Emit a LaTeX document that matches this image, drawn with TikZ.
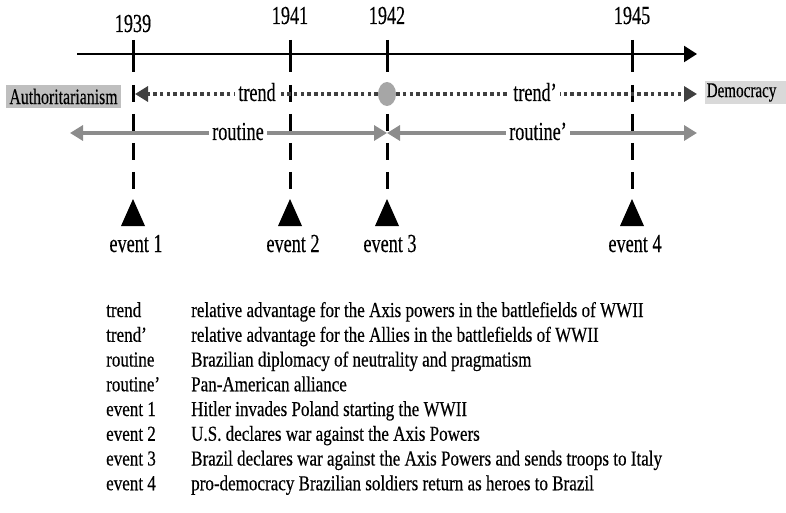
\documentclass[tikz,border=0pt]{standalone}
\usepackage{fontspec}
\setmainfont{Liberation Serif}
\newfontfamily\lblfont[FakeStretch=0.70,FakeBold=0.3]{Liberation Serif}
\newfontfamily\legfont[FakeStretch=0.80,FakeBold=0.3]{Liberation Serif}
\newfontfamily\boxfont[FakeStretch=0.72,FakeBold=0.3]{Liberation Serif}
\usetikzlibrary{arrows.meta,shapes.geometric}
\definecolor{authgray}{HTML}{BFBFBF}
\definecolor{demgray}{HTML}{D9D9D9}
\definecolor{trendgray}{HTML}{404040}
\definecolor{routgray}{HTML}{8C8C8C}
\definecolor{dotgray}{HTML}{A6A6A6}
\tikzset{
  lbl/.style={font=\lblfont\fontsize{26}{26}\selectfont, inner sep=0pt, anchor=base},
  leg/.style={font=\legfont\fontsize{21.3}{21.3}\selectfont, inner sep=0pt, anchor=base west},
  rowlbl/.style={lbl, fill=white, inner xsep=3pt, inner ysep=2pt},
  endbox/.style={font=\boxfont\fontsize{22}{22}\selectfont, inner sep=0pt},
  tickline/.style={line width=3pt},
  dashline/.style={line width=3pt, dash pattern=on 17pt off 12pt},
  trendline/.style={draw=trendgray, line width=3.5pt, dash pattern=on 3.5pt off 3.2pt,
     -{Triangle[length=13pt,width=15pt,fill=trendgray]}},
  routline/.style={draw=routgray, line width=4pt,
     {Triangle[length=13pt,width=15pt,fill=routgray]}-{Triangle[length=13pt,width=15pt,fill=routgray]}},
  evtri/.style={fill=black}
}
\begin{document}
\begin{tikzpicture}[x=1pt,y=-1pt]
\useasboundingbox (0,0) rectangle (786,513);
% axis
\coordinate (axL) at (77,54);
\coordinate (axR) at (697,54);
\draw[line width=2.2pt, -{Triangle[length=13pt,width=16pt]}] (axL) -- (axR);
% years
\node[lbl] (y39) at (133,32) {1939};
\node[lbl] (y41) at (290,24) {1941};
\node[lbl] (y42) at (387,24) {1942};
\node[lbl] (y45) at (632,24) {1945};
% vertical lines and event triangles
\foreach \x/\n in {133/1,290/2,387/3,632/4}{
  \coordinate (ta\n) at (\x,40);
  \coordinate (tb\n) at (\x,72);
  \coordinate (da\n) at (\x,85);
  \coordinate (db\n) at (\x,192);
  \draw[tickline] (ta\n) -- (tb\n);
  \draw[dashline] (da\n) -- (db\n);
  \fill[evtri] (\x-12,226) -- (\x,199) -- (\x+12,226) -- cycle;
  \node[lbl] (ev\n) at (\x+3,252) {event \n};
}
% end boxes
\node[endbox, fill=authgray, minimum width=115pt, minimum height=23pt] (auth) at (63.5,96.5) {Authoritarianism};
\node[endbox, fill=demgray, minimum height=23pt, text width=78pt, align=left, inner xsep=1.5pt, anchor=west,
  font=\boxfont\fontsize{21}{21}\selectfont] (dem) at (705,92.5) {Democracy};
% trend row
\node[ellipse, fill=dotgray, minimum width=18pt, minimum height=24pt, inner sep=0pt] (c42) at (387,94) {};
\coordinate (tipL) at (135,94);
\coordinate (tipR) at (697,94);
\draw[trendline] (c42.west) -- (tipL);
\draw[trendline] (c42.east) -- (tipR);
\node[rowlbl] (trend) at (257,101) {trend};
\node[rowlbl] (trendp) at (535,101) {trend’};
% routine row
\coordinate (rL) at (70,133);
\coordinate (rM) at (387,133);
\coordinate (rR) at (697,133);
\draw[routline] (rL) -- (rM);
\draw[routline] (rM) -- (rR);
\node[rowlbl] (rout) at (238,140) {routine};
\node[rowlbl] (routp) at (538,140) {routine’};
% legend
\foreach \k/\a/\b in {0/trend/relative advantage for the Axis powers in the battlefields of WWII,
  1/trend’/relative advantage for the Allies in the battlefields of WWII,
  2/routine/Brazilian diplomacy of neutrality and pragmatism,
  3/routine’/Pan-American alliance,
  4/event 1/Hitler invades Poland starting the WWII,
  5/event 2/U.S. declares war against the Axis Powers,
  6/event 3/Brazil declares war against the Axis Powers and sends troops to Italy,
  7/event 4/pro-democracy Brazilian soldiers return as heroes to Brazil}{
  \node[leg] (lk\k) at (106,317+24.75*\k) {\a};
  \node[leg] (lv\k) at (191,317+24.75*\k) {\b};
}
\end{tikzpicture}
\end{document}
